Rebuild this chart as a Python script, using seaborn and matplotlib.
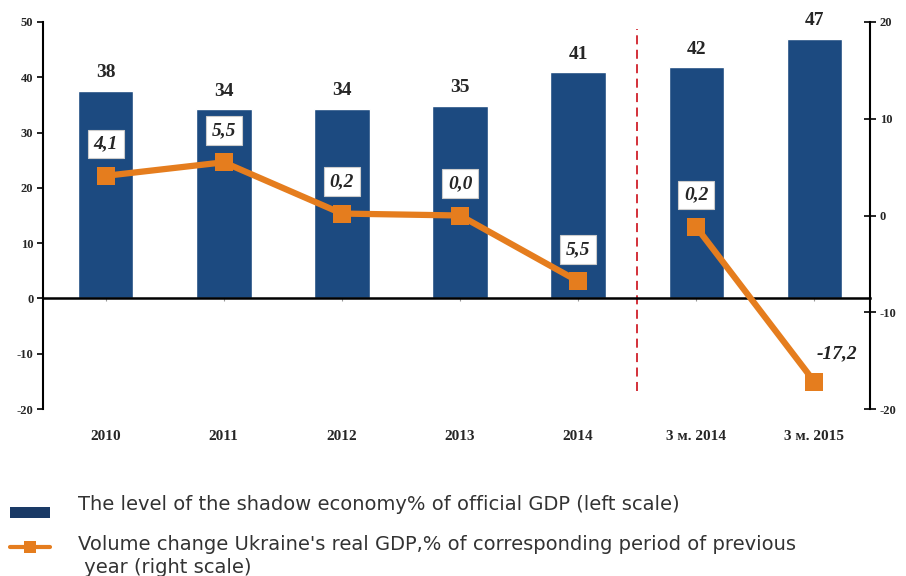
import matplotlib
matplotlib.use("Agg")
import matplotlib.pyplot as plt
import seaborn as sns
import pandas as pd
from matplotlib.patches import Rectangle
from matplotlib.lines import Line2D

categories = ["2010", "2011", "2012", "2013", "2014", "3 м. 2014", "3 м. 2015"]
shadow_economy = [37.5, 34.2, 34.3, 34.8, 40.9, 41.8, 47.0]
bar_labels = ["38", "34", "34", "35", "41", "42", "47"]
gdp_change = [4.1, 5.5, 0.2, 0.0, -6.8, -1.2, -17.2]
gdp_labels = ["4,1", "5,5", "0,2", "0,0", "5,5", "0,2", "-17,2"]
gdp_segment = [1, 1, 1, 1, 1, 2, 2]
left_ticks = [-20, -10, 0, 10, 20, 30, 40, 50]
right_ticks = [-20, -10, 0, 10, 20]
legend_labels = ["The level of the shadow economy% of official GDP (left scale)",
                 "Volume change Ukraine's real GDP,% of corresponding period of previous\n year (right scale)"]

BLUE = "#1c4a80"
ORANGE = "#e57d1e"

sns.set_theme(style="white")
plt.rcParams["font.family"] = ["Liberation Serif", "DejaVu Serif"]
plt.rcParams["axes.unicode_minus"] = False

fig = plt.figure(figsize=(9.06, 5.76), dpi=100)
W, H = 906, 576
ax = fig.add_axes([43 / W, 1 - 409 / H, (870 - 43) / W, 387 / H])

df_bar = pd.DataFrame({"cat": categories, "val": shadow_economy})
sns.barplot(data=df_bar, x="cat", y="val", ax=ax, color=BLUE, saturation=1,
            width=0.47, order=categories)
ax.set_xlim(-0.53, 6.47)
ax.set_ylim(-20, 50)
ax.set_yticks(left_ticks)
ax.set_xlabel("")
ax.set_ylabel("")

for s in ["top", "right"]:
    ax.spines[s].set_visible(False)
ax.spines["left"].set_color("black")
ax.spines["left"].set_linewidth(1.5)
ax.spines["bottom"].set_position(("data", 0))
ax.spines["bottom"].set_color("black")
ax.spines["bottom"].set_linewidth(1.8)

ax.tick_params(axis="y", direction="out", length=4, width=1.2, color="black",
               labelsize=9, pad=3, left=True)
ax.tick_params(axis="x", direction="inout", length=5, width=0.8, color="#999999",
               labelsize=11, pad=92, bottom=True)
for t in ax.get_yticklabels() + ax.get_xticklabels():
    t.set_fontweight("bold")

for i, (v, lab) in enumerate(zip(shadow_economy, bar_labels)):
    ax.annotate(lab, (i, v), xytext=(0, 7), textcoords="offset points",
                ha="center", va="bottom", fontsize=14, fontweight="bold")

ax.axvline(4.5, ymin=(-16.8 + 20) / 70, ymax=(48.8 + 20) / 70,
           color="#d0202a", lw=1.3, ls=(0, (5, 3)))

ax2 = ax.twinx()
ax2.set_ylim(-20, 20)
ax2.set_yticks(right_ticks)
for s in ["top", "left", "bottom"]:
    ax2.spines[s].set_visible(False)
ax2.spines["right"].set_color("black")
ax2.spines["right"].set_linewidth(1.5)
ax2.tick_params(axis="y", direction="inout", length=8, width=1.2, color="black",
                labelsize=9, pad=3, right=True)
for t in ax2.get_yticklabels():
    t.set_fontweight("bold")

df_line = pd.DataFrame({"pos": list(range(len(categories))), "gdp": gdp_change,
                        "seg": gdp_segment})
sns.lineplot(data=df_line, x="pos", y="gdp", units="seg", estimator=None, ax=ax2,
             color=ORANGE, lw=4.5, marker="s", markersize=13, markeredgewidth=0,
             legend=False)
ax2.set_xlabel("")
ax2.set_ylabel("")

for i, (v, lab) in enumerate(zip(gdp_change, gdp_labels)):
    last = i == len(gdp_change) - 1
    if last:
        ax2.annotate(lab, (i, v), xytext=(16, 20), textcoords="offset points",
                     ha="center", va="center", fontsize=14, fontweight="bold",
                     style="italic", color="#222222")
    else:
        ax2.annotate(lab, (i, v), xytext=(0, 23), textcoords="offset points",
                     ha="center", va="center", fontsize=14, fontweight="bold",
                     style="italic",
                     bbox=dict(boxstyle="square,pad=0.3", fc="white",
                               ec="#cccccc", lw=0.8))

# legend drawn below the plot
leg_font = {"family": ["DejaVu Sans"], "size": 14, "color": "#333333"}
fig.patches.append(Rectangle((10 / W, 1 - 518 / H), 40 / W, 11 / H,
                             transform=fig.transFigure, facecolor="#1a3a66",
                             edgecolor="none"))
fig.text(78 / W, 1 - 505 / H, legend_labels[0], ha="left", va="center", **leg_font)
fig.lines.append(Line2D([10 / W, 50 / W], [1 - 547 / H, 1 - 547 / H],
                        transform=fig.transFigure, color=ORANGE, lw=3))
fig.lines.append(Line2D([30 / W], [1 - 547 / H], transform=fig.transFigure,
                        color=ORANGE, marker="s", markersize=9,
                        markeredgewidth=0, lw=0))
fig.text(78 / W, 1 - 535 / H, legend_labels[1], ha="left", va="top",
         linespacing=1.25, **leg_font)

fig.savefig("out.png", dpi=100)
